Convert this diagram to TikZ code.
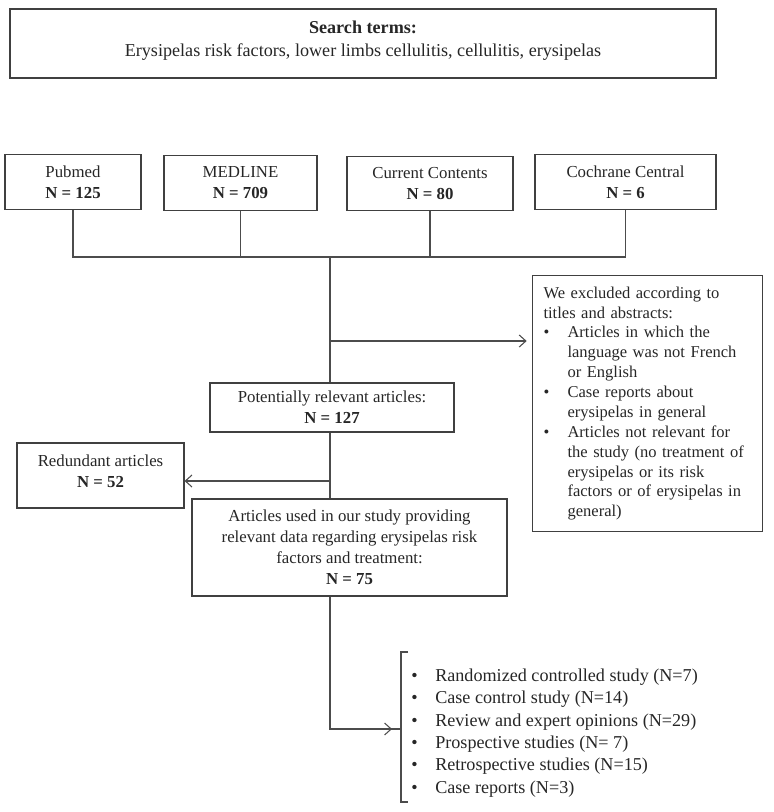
\documentclass[tikz,border=0pt]{standalone}
\usepackage{fontspec}
\setmainfont{Liberation Serif}
\usetikzlibrary{arrows.meta}

\newcommand{\itembul}{\makebox[18pt][l]{\textbullet}}
\newcommand{\itemind}{\hspace*{18pt}}

\begin{document}
\begin{tikzpicture}[x=0.75pt, y=-0.75pt,
    box/.style={draw=black!75, line width=0.8pt, align=center, text=black!85, inner sep=0pt, font=\fontsize{12.6}{15.75}\selectfont},
    line/.style={black!70, line width=0.8pt},
    arrow/.style={line, -{Straight Barb[length=5pt, width=9pt]}}]

    \useasboundingbox (0, 0) rectangle (773, 812);

    % Search terms
    \node[box, minimum width=529.5pt, minimum height=51.75pt, font=\fontsize{13.6}{17.25}\selectfont] (search) at (363, 43.5) {\textbf{Search terms:}\\Erysipelas risk factors, lower limbs cellulitis, cellulitis, erysipelas\\[-9.5pt]};

    % Databases
    \node[box, minimum width=102pt, minimum height=41pt] (pubmed) at (73, 182) {Pubmed\\\textbf{N = 125}};
    \node[box, minimum width=114.75pt, minimum height=41pt] (medline) at (240.5, 183) {MEDLINE\\\textbf{N = 709}};
    \node[box, minimum width=124.5pt, minimum height=41pt] (current) at (430, 183.5) {Current Contents\\\textbf{N = 80}};
    \node[box, minimum width=135.75pt, minimum height=41pt] (cochrane) at (625.5, 182) {Cochrane Central\\\textbf{N = 6}};

    \coordinate (join) at (330, 257);
    \draw[line] (pubmed.south) -- (pubmed.south |- join) -- (cochrane.south |- join) -- (cochrane.south);
    \draw[line] (medline.south) -- (medline.south |- join);
    \draw[line] (current.south) -- (current.south |- join);

    % Potentially relevant
    \node[box, minimum width=183pt, minimum height=36.75pt] (relevant) at (332, 407.5) {Potentially relevant articles:\\\textbf{N = 127}};
    \draw[line] (join) -- (join |- relevant.north);

    % Excluded
    \node[box, anchor=north west, align=left, text width=156pt, inner xsep=8.25pt, minimum height=192pt, font=\fontsize{12.4}{14.9}\selectfont] (excluded) at (532, 275) {We excluded according to\\
        titles and abstracts:\\
        \itembul Articles in which the\\
        \itemind language was not French\\
        \itemind or English\\
        \itembul Case reports about\\
        \itemind erysipelas in general\\
        \itembul Articles not relevant for\\
        \itemind the study (no treatment of\\
        \itemind erysipelas or its risk\\
        \itemind factors or of erysipelas in\\
        \itemind general)};
    \coordinate (excl) at (330, 341);
    \draw[arrow, shorten >=4pt] (excl) -- (excl -| excluded.west);

    % Redundant
    \node[box, minimum width=125.25pt, minimum height=48.75pt] (redundant) at (100.5, 475.5) {Redundant articles\\\textbf{N = 52}\\[-9pt]};
    \coordinate (redun) at (330, 481);
    \draw[arrow] (redun) -- (redun -| redundant.east);

    % Used in study
    \node[box, minimum width=236.25pt, minimum height=72.75pt] (used) at (349.5, 547.5) {Articles used in our study providing\\relevant data regarding erysipelas risk\\factors and treatment:\\\textbf{N = 75}};
    \draw[line] (relevant.south -| join) -- (used.north -| join);

    % Study types
    \coordinate (split) at (330, 729);
    \coordinate (brk) at (401, 729);
    \draw[line] (used.south -| join) -- (split) -- (brk);
    \draw[arrow] (split) -- ([xshift=-6.75pt]brk);
    \draw[line] ([shift={(7, -77)}]brk) -- ([shift={(0, -77)}]brk) -- ([shift={(0, 73)}]brk) -- ([shift={(7, 73)}]brk);

    \node[anchor=west, align=left, inner sep=0pt, text=black!85, font=\fontsize{13.6}{16.8}\selectfont] (types) at (411, 733) {\itembul Randomized controlled study (N=7)\\
        \itembul Case control study (N=14)\\
        \itembul Review and expert opinions (N=29)\\
        \itembul Prospective studies (N= 7)\\
        \itembul Retrospective studies (N=15)\\
        \itembul Case reports (N=3)};
\end{tikzpicture}
\end{document}
